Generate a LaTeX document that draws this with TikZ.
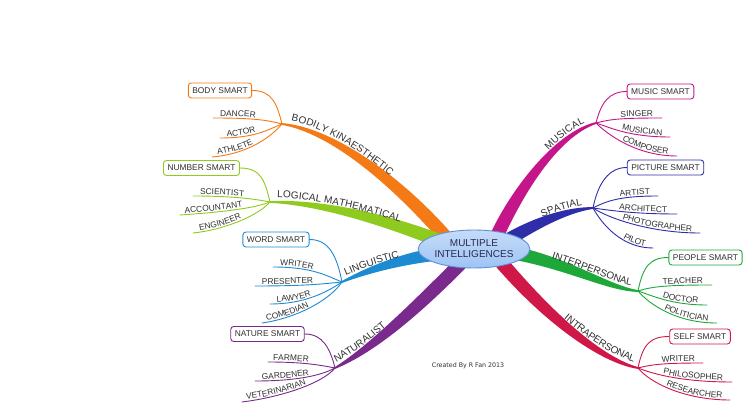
\documentclass[tikz,border=0pt]{standalone}
\usepackage{fontspec}
\setmainfont{Liberation Sans}
\newfontfamily\creditfont{DejaVu Sans}
\usetikzlibrary{calc,decorations.text,shapes.geometric}
\definecolor{cOr}{HTML}{F47A16}
\definecolor{cLi}{HTML}{8FCB1E}
\definecolor{cBl}{HTML}{1D8BD1}
\definecolor{cPu}{HTML}{7A2A8C}
\definecolor{cMa}{HTML}{C4158A}
\definecolor{cNa}{HTML}{2E2EA8}
\definecolor{cGr}{HTML}{1FA83A}
\definecolor{cRe}{HTML}{D01848}
\definecolor{labc}{HTML}{303030}
\definecolor{ellf}{HTML}{9EC4F4}
\definecolor{elld}{HTML}{5E90DC}
\newcommand\sublab{\fontsize{8.4}{10}\selectfont}
\newcommand\mainlab{\fontsize{10}{12}\selectfont}
\newcommand\taper[6]{%
  \path #2 coordinate (tH) #3 coordinate (tA) #4 coordinate (tB) #5 coordinate (tC);
  \path ($(tH)!0.9pt!90:(tA)$) coordinate (tHa) ($(tH)!0.9pt!-90:(tA)$) coordinate (tHb)
        ($(tH)!3.2pt!90:(tA)$) coordinate (tMa) ($(tH)!3.2pt!-90:(tA)$) coordinate (tMb)
        ($(tC)!#6!-90:(tB)$) coordinate (tCa) ($(tC)!#6!90:(tB)$) coordinate (tCb);
  \fill[#1] (tHa) .. controls ($(tA)+(tMa)-(tH)$) and ($(tB)+(tCa)-(tC)$) .. (tCa)
     -- (tCb) .. controls ($(tB)+(tCb)-(tC)$) and ($(tA)+(tMb)-(tH)$) .. (tHb) -- cycle;
}
\begin{document}
\begin{tikzpicture}[x=1pt,y=-1pt,
  sub/.style={line width=0.9pt, line cap=round},
  sbox/.style={draw, rounded corners=3pt, fill=white, line width=0.9pt, inner xsep=4pt,
     inner ysep=0pt, minimum height=15pt, font=\sublab, text=labc},
  lsubt/.style 2 args={postaction={decorate, decoration={text along path,
     text={|\sublab|#1}, text align={left, left indent=#2}, raise=1.6pt, text color=labc}}},
  rsubt/.style 2 args={postaction={decorate, decoration={text along path,
     text={|\sublab|#1}, text align={right, right indent=#2}, raise=1.6pt, text color=labc}}},
  mlab/.style n args={3}{decorate, decoration={text along path,
     text={|\mainlab|#1}, text align={#2}, raise=#3, text color=labc}}
]
\useasboundingbox (0,0) rectangle (750,414);
\fill[white] (0,0) rectangle (750,414);

% hubs
\coordinate (hBK) at (282,124);
\coordinate (hLM) at (270,202);
\coordinate (hLI) at (342,282);
\coordinate (hNA) at (335,368);
\coordinate (hMU) at (596,123);
\coordinate (hSP) at (593,208);
\coordinate (hIE) at (638,291);
\coordinate (hIA) at (638,368);
% branch ends inside the central ellipse
\coordinate (eBK) at (450,242);
\coordinate (eLM) at (455,247);
\coordinate (eLI) at (458,252);
\coordinate (eNA) at (462,262);
\coordinate (eMU) at (495,240);
\coordinate (eSP) at (495,248);
\coordinate (eIE) at (495,250);
\coordinate (eIA) at (495,255);

% main tapered branches
\taper{cOr}{(hBK)}{(330,130)}{(395,178)}{(eBK)}{6.8pt}
\taper{cLi}{(hLM)}{(320,202)}{(390,220)}{(eLM)}{6.8pt}
\taper{cBl}{(hLI)}{(368,270)}{(410,255)}{(eLI)}{6.8pt}
\taper{cPu}{(hNA)}{(360,355)}{(395,330)}{(eNA)}{6.8pt}
\taper{cMa}{(hMU)}{(555,135)}{(515,195)}{(eMU)}{6.8pt}
\taper{cNa}{(hSP)}{(565,210)}{(530,225)}{(eSP)}{6.8pt}
\taper{cGr}{(hIE)}{(605,288)}{(560,258)}{(eIE)}{6.8pt}
\taper{cRe}{(hIA)}{(600,360)}{(545,315)}{(eIA)}{6.8pt}

% main labels
\path[mlab={BODILY KINAESTHETIC}{left, left indent=8pt}{5pt}] (hBK) .. controls (330,130) and (395,178) .. (eBK);
\path[mlab={LOGICAL MATHEMATICAL}{left, left indent=7pt}{4.5pt}] (hLM) .. controls (320,202) and (390,220) .. (eLM);
\path[mlab={LINGUISTIC}{left, left indent=6pt}{4pt}] (hLI) .. controls (368,270) and (410,255) .. (eLI);
\path[mlab={NATURALIST}{left, left indent=4pt}{4.5pt}] (hNA) .. controls (360,355) and (395,330) .. (eNA);
\path[mlab={MUSICAL}{right, right indent=10pt}{4pt}] (eMU) .. controls (515,195) and (555,135) .. (hMU);
\path[mlab={SPATIAL}{right, right indent=10pt}{4pt}] (eSP) .. controls (530,225) and (565,210) .. (hSP);
\path[mlab={INTERPERSONAL}{right, right indent=8pt}{4.5pt}] (eIE) .. controls (560,258) and (605,288) .. (hIE);
\path[mlab={INTRAPERSONAL}{right, right indent=6pt}{5pt}] (eIA) .. controls (545,315) and (600,360) .. (hIA);

% boxes
\node[sbox, draw=cOr] (bBody) at (220,90.5) {BODY SMART};
\node[sbox, draw=cLi] (bNum) at (201.5,168) {NUMBER SMART};
\node[sbox, draw=cBl] (bWord) at (276,239.5) {WORD SMART};
\node[sbox, draw=cPu] (bNat) at (267.5,334) {NATURE SMART};
\node[sbox, draw=cMa] (bMus) at (660.5,91.5) {MUSIC SMART};
\node[sbox, draw=cNa] (bPic) at (665.5,167.5) {PICTURE SMART};
\node[sbox, draw=cGr] (bPeo) at (705.5,257.5) {PEOPLE SMART};
\node[sbox, draw=cRe] (bSelf) at (700,336.5) {SELF SMART};

% bodily kinaesthetic
\draw[sub,cOr] (bBody.east) .. controls +(20,0) and +(-5,-20) .. (hBK);
\draw[sub,cOr,lsubt={DANCER}{7pt}] (213,118) .. controls +(40,0) and +(-15,-4) .. (hBK);
\draw[sub,cOr,lsubt={ACTOR}{7pt}] (220,138) .. controls +(35,0) and +(-15,6) .. (hBK);
\draw[sub,cOr,lsubt={ATHLETE}{6pt}] (212,157) .. controls +(35,-3) and +(-12,14) .. (hBK);
% logical mathematical
\draw[sub,cLi] (bNum.east) .. controls +(22,0) and +(-5,-20) .. (hLM);
\draw[sub,cLi,lsubt={SCIENTIST}{7pt}] (193,196) .. controls +(40,0) and +(-15,-3) .. (hLM);
\draw[sub,cLi,lsubt={ACCOUNTANT}{5pt}] (180,215) .. controls +(45,-3) and +(-15,6) .. (hLM);
\draw[sub,cLi,lsubt={ENGINEER}{7pt}] (193,233) .. controls +(30,-3) and +(-12,14) .. (hLM);
% linguistic
\draw[sub,cBl] (bWord.east) .. controls +(20,0) and +(-5,-25) .. (hLI);
\draw[sub,cBl,lsubt={WRITER}{7pt}] (273,267) .. controls +(40,0) and +(-15,-6) .. (hLI);
\draw[sub,cBl,lsubt={PRESENTER}{7pt}] (255,286) .. controls +(50,0) and +(-20,2) .. (hLI);
\draw[sub,cBl,lsubt={LAWYER}{7pt}] (270,304) .. controls +(35,0) and +(-15,10) .. (hLI);
\draw[sub,cBl,lsubt={COMEDIAN}{5pt}] (262,323) .. controls +(35,-5) and +(-12,18) .. (hLI);
% naturalist
\draw[sub,cPu] (bNat.east) .. controls +(18,0) and +(-5,-20) .. (hNA);
\draw[sub,cPu,lsubt={FARMER}{5pt}] (268,362) .. controls +(35,0) and +(-15,-3) .. (hNA);
\draw[sub,cPu,lsubt={GARDENER}{7pt}] (255,381) .. controls +(40,0) and +(-15,8) .. (hNA);
\draw[sub,cPu,lsubt={VETERINARIAN}{5pt}] (242,402) .. controls +(40,-5) and +(-12,15) .. (hNA);
% musical
\draw[sub,cMa] (hMU) .. controls +(5,-20) and +(-18,0) .. (bMus.west);
\draw[sub,cMa,rsubt={SINGER}{9pt}] (hMU) .. controls +(15,-4) and +(-40,0) .. (662,118);
\draw[sub,cMa,rsubt={MUSICIAN}{8pt}] (hMU) .. controls +(15,5) and +(-40,0) .. (670,137);
\draw[sub,cMa,rsubt={COMPOSER}{9pt}] (hMU) .. controls +(12,12) and +(-40,0) .. (677,156);
% spatial
\draw[sub,cNa] (hSP) .. controls +(5,-25) and +(-18,0) .. (bPic.west);
\draw[sub,cNa,rsubt={ARTIST}{8pt}] (hSP) .. controls +(15,-8) and +(-35,0) .. (658,196);
\draw[sub,cNa,rsubt={ARCHITECT}{10pt}] (hSP) .. controls +(15,2) and +(-45,0) .. (677,214);
\draw[sub,cNa,rsubt={PHOTOGRAPHER}{8pt}] (hSP) .. controls +(15,10) and +(-50,0) .. (700,233);
\draw[sub,cNa,rsubt={PILOT}{8pt}] (hSP) .. controls +(10,18) and +(-30,0) .. (653,248);
% interpersonal
\draw[sub,cGr] (hIE) .. controls +(5,-25) and +(-18,0) .. (bPeo.west);
\draw[sub,cGr,rsubt={TEACHER}{9pt}] (hIE) .. controls +(15,-5) and +(-40,0) .. (712,285);
\draw[sub,cGr,rsubt={DOCTOR}{9pt}] (hIE) .. controls +(15,5) and +(-35,0) .. (707,305);
\draw[sub,cGr,rsubt={POLITICIAN}{9pt}] (hIE) .. controls +(12,14) and +(-40,0) .. (717,323);
% intrapersonal
\draw[sub,cRe] (hIA) .. controls +(5,-25) and +(-18,0) .. (bSelf.west);
\draw[sub,cRe,rsubt={WRITER}{8pt}] (hIA) .. controls +(15,-4) and +(-35,0) .. (703,363);
\draw[sub,cRe,rsubt={PHILOSOPHER}{9pt}] (hIA) .. controls +(15,6) and +(-50,0) .. (732,382);
\draw[sub,cRe,rsubt={RESEARCHER}{8pt}] (hIA) .. controls +(12,15) and +(-45,0) .. (730,400);

% centre
\node[ellipse, draw=elld, line width=0.9pt, top color=ellf!60!white, bottom color=ellf,
  minimum width=90pt, minimum height=38pt, inner sep=0pt, align=center,
  font=\mainlab, text=labc!85!blue] (centre) at (474,249) {MULTIPLE\\[-1pt]INTELLIGENCES};

% credit
\node[font=\creditfont\fontsize{6.3}{8}\selectfont, text=labc] (credit) at (468,366) {Created By R Fan 2013};
\end{tikzpicture}
\end{document}
